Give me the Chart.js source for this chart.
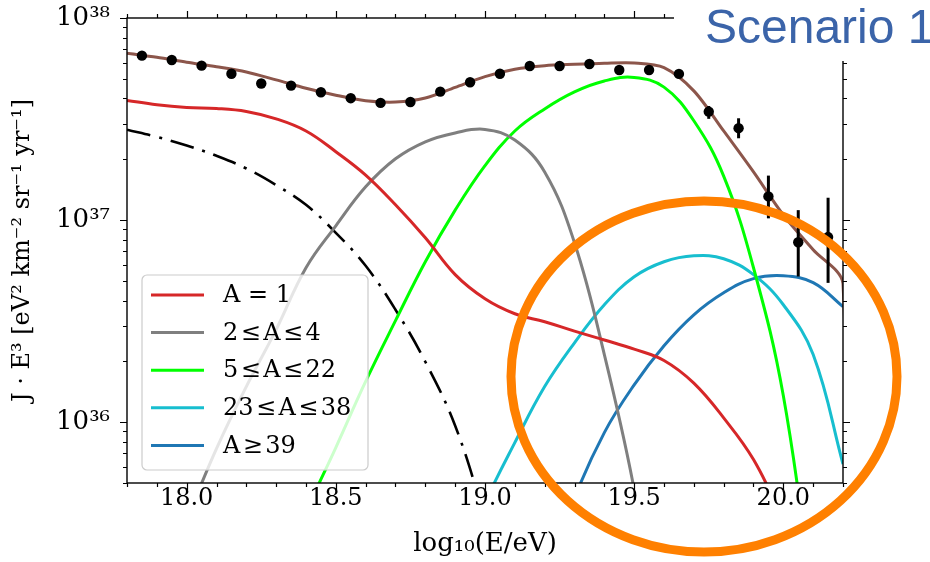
<!DOCTYPE html>
<html>
<head>
<meta charset="utf-8">
<script src="https://cdn.jsdelivr.net/npm/chart.js@4.4.0/dist/chart.umd.min.js"></script>
<style>
  html, body { margin: 0; padding: 0; background: #fff; }
  #wrap { width: 930px; height: 562px; }
</style>
</head>
<body>
<div id="wrap"><canvas id="c" width="930" height="562"></canvas></div>
<script>
// log10(E/eV) grid for the model curves
const curveE = [17.8, 17.9, 18.0, 18.1, 18.2, 18.3, 18.4, 18.5, 18.6, 18.7, 18.8, 18.9,
                19.0, 19.1, 19.2, 19.3, 19.4, 19.5, 19.6, 19.7, 19.8, 19.9, 20.0, 20.1, 20.2];

// J*E^3 of each mass group
const protons = [3.91e37, 3.72e37, 3.61e37, 3.57e37, 3.45e37, 3.17e37, 2.76e37, 2.18e37, 1.67e37, 1.19e37, 8.17e36, 5.37e36,
                 4.08e36, 3.44e36, 3.14e36, 2.82e36, 2.55e36, 2.30e36, 2.02e36, 1.56e36, 1.05e36, 6.53e35, 3.3e35, null, null];
const helium  = [null, null, 3.3e35, 7.4e35, 1.50e36, 2.87e36, 5.81e36, 9.37e36, 1.46e37, 2.01e37, 2.44e37, 2.70e37,
                 2.81e37, 2.49e37, 1.73e37, 7.72e36, 2.16e36, 4.65e35, 6e34, null, null, null, null, null, null];
const cno     = [null, null, null, null, null, 1.6e35, 3.6e35, 7.49e35, 1.59e36, 3.18e36, 6.22e36, 1.12e37,
                 1.86e37, 2.76e37, 3.55e37, 4.31e37, 4.88e37, 5.08e37, 4.55e37, 3.10e37, 1.65e37, 5.81e36, 1.35e36, 1.3e35, null];
const sisGroup = [null, null, null, null, null, null, null, null, null, null, null, 1.8e35,
                 4.0e35, 7.92e35, 1.50e36, 2.47e36, 3.81e36, 5.24e36, 6.22e36, 6.66e36, 6.44e36, 5.37e36, 3.81e36, 2.16e36, 6.2e35];
const ironGroup = [null, null, null, null, null, null, null, null, null, null, null, null,
                 null, null, 1.5e35, 4.2e35, 8.88e35, 1.53e36, 2.39e36, 3.40e36, 4.37e36, 5.13e36, 5.30e36, 4.90e36, 3.73e36];
const otherComp = [2.80e37, 2.58e37, 2.34e37, 2.08e37, 1.80e37, 1.49e37, 1.19e37, 8.65e36, 5.94e36, 3.60e36, 1.99e36, 9.6e35,
                 3.4e35, null, null, null, null, null, null, null, null, null, null, null, null];

// total model, with the drop at the end of the range
const totalE = curveE.concat([20.2]);
const total   = [6.69e37, 6.39e37, 6.04e37, 5.74e37, 5.41e37, 4.94e37, 4.49e37, 4.15e37, 3.90e37, 3.84e37, 4.02e37, 4.54e37,
                 5.13e37, 5.58e37, 5.81e37, 5.90e37, 5.97e37, 5.99e37, 5.68e37, 4.36e37, 2.76e37, 1.73e37, 1.06e37, 7.13e36, 4.84e36, 1e34];

// measured points
const dataE    = [17.85, 17.95, 18.05, 18.15, 18.25, 18.35, 18.45, 18.55, 18.65, 18.75, 18.85, 18.95,
                  19.05, 19.15, 19.25, 19.35, 19.45, 19.55, 19.65, 19.75, 19.85, 19.95, 20.05, 20.15];
const dataJ    = [6.51e37, 6.20e37, 5.81e37, 5.30e37, 4.74e37, 4.63e37, 4.29e37, 4.01e37, 3.80e37, 3.84e37, 4.32e37, 4.81e37,
                  5.30e37, 5.79e37, 5.79e37, 5.92e37, 5.53e37, 5.53e37, 5.29e37, 3.44e37, 2.85e37, 1.31e37, 7.77e36, 8.24e36];
const dataLow  = [6.45e37, 6.14e37, 5.75e37, 5.24e37, 4.68e37, 4.57e37, 4.23e37, 3.95e37, 3.74e37, 3.77e37, 4.24e37, 4.72e37,
                  5.20e37, 5.67e37, 5.65e37, 5.76e37, 5.36e37, 5.33e37, 5.05e37, 3.17e37, 2.54e37, 1.02e37, 5.26e36, 4.89e36];
const dataHigh = [6.57e37, 6.26e37, 5.87e37, 5.36e37, 4.80e37, 4.69e37, 4.35e37, 4.07e37, 3.86e37, 3.91e37, 4.40e37, 4.90e37,
                  5.40e37, 5.91e37, 5.93e37, 6.08e37, 5.70e37, 5.73e37, 5.53e37, 3.67e37, 3.19e37, 1.66e37, 1.12e37, 1.29e37];

const xTickValues = [18.0, 18.5, 19.0, 19.5, 20.0];
const xTickLabels = ['18.0', '18.5', '19.0', '19.5', '20.0'];
const yTickValues = [1e36, 1e37, 1e38];
const yTickLabels = ['10³⁶', '10³⁷', '10³⁸'];

const legendNames = ['A = 1', '2\u200a≤\u200aA\u200a≤\u200a4', '5\u200a≤\u200aA\u200a≤\u200a22',
                     '23\u200a≤\u200aA\u200a≤\u200a38', 'A\u200a≥\u200a39'];

Chart.defaults.font.family = 'DejaVu Serif';
Chart.defaults.color = '#000';

function curve(label, color, values, xs, extra) {
  return Object.assign({
    type: 'line',
    label: label,
    data: xs.map((x, i) => ({ x: x, y: values[i] })),
    borderColor: color,
    backgroundColor: color,
    borderWidth: 3,
    pointRadius: 0,
    fill: false,
    tension: 0.4
  }, extra || {});
}

const frame = {
  id: 'frame',
  afterDatasetsDraw(chart) {
    const ctx = chart.ctx, a = chart.chartArea;
    const xs = chart.scales.x, ys = chart.scales.y;
    ctx.save();
    ctx.beginPath();
    ctx.rect(a.left, a.top, a.right - a.left, a.bottom - a.top);
    ctx.clip();
    ctx.strokeStyle = '#000';
    ctx.lineWidth = 3;
    dataE.forEach((e, i) => {
      const px = xs.getPixelForValue(e);
      ctx.beginPath();
      ctx.moveTo(px, ys.getPixelForValue(dataLow[i]));
      ctx.lineTo(px, ys.getPixelForValue(dataHigh[i]));
      ctx.stroke();
    });
    ctx.restore();
  },
  afterDraw(chart) {
    const ctx = chart.ctx, a = chart.chartArea;
    const xs = chart.scales.x, ys = chart.scales.y;
    ctx.save();
    ctx.strokeStyle = '#000';

    // ticks on all four sides, pointing out
    ctx.lineWidth = 1.2;
    for (let k = 178; k <= 202; k++) {
      const v = k / 10;
      const px = Math.round(xs.getPixelForValue(v)) + 0.5;
      const len = xTickValues.some(t => Math.abs(t - v) < 1e-9) ? 7 : 4;
      ctx.beginPath();
      ctx.moveTo(px, a.bottom); ctx.lineTo(px, a.bottom + len);
      ctx.moveTo(px, a.top); ctx.lineTo(px, a.top - len);
      ctx.stroke();
    }
    for (let ex = 35; ex <= 38; ex++) {
      for (let m = 1; m <= 9; m++) {
        const v = m * Math.pow(10, ex);
        if (v < ys.min * 0.999 || v > ys.max * 1.001) continue;
        const py = Math.round(ys.getPixelForValue(v)) + 0.5;
        const len = m === 1 ? 7 : 4;
        ctx.beginPath();
        ctx.moveTo(a.left, py); ctx.lineTo(a.left - len, py);
        ctx.moveTo(a.right, py); ctx.lineTo(a.right + len, py);
        ctx.stroke();
      }
    }
    // spines
    ctx.lineWidth = 1.4;
    ctx.strokeRect(a.left, a.top, a.right - a.left, a.bottom - a.top);

    // legend
    const lx = a.left + 15, ly = a.bottom - 208, lw = 226, lh = 195;
    ctx.fillStyle = 'rgba(255,255,255,0.8)';
    ctx.strokeStyle = '#cccccc';
    ctx.lineWidth = 1.2;
    ctx.beginPath();
    ctx.roundRect(lx, ly, lw, lh, 5);
    ctx.fill();
    ctx.stroke();
    ctx.font = '24px "DejaVu Serif"';
    ctx.textBaseline = 'middle';
    ctx.textAlign = 'left';
    legendNames.forEach((name, i) => {
      const ds = chart.data.datasets[i + 2];
      const yy = ly + 20 + i * 37.6;
      ctx.strokeStyle = ds.borderColor;
      ctx.lineWidth = 3;
      ctx.beginPath();
      ctx.moveTo(lx + 9, yy); ctx.lineTo(lx + 62, yy);
      ctx.stroke();
      ctx.fillStyle = '#000';
      ctx.fillText(name, lx + 81, yy + 1);
    });

    // title box in the top right corner
    ctx.fillStyle = '#fff';
    ctx.fillRect(674, 0, 930 - 674, 61);
    ctx.fillStyle = '#3b64a9';
    ctx.font = '48px "Liberation Sans"';
    ctx.textBaseline = 'alphabetic';
    ctx.fillText('Scenario 1', 705, 43);

    // highlight ring
    ctx.strokeStyle = '#ff8000';
    ctx.lineWidth = 9;
    ctx.beginPath();
    ctx.ellipse(704, 376.5, 193, 175.5, 0, 0, Math.PI * 2);
    ctx.stroke();
    ctx.restore();
  }
};

new Chart(document.getElementById('c'), {
  type: 'line',
  data: {
    datasets: [
      { type: 'scatter', label: 'data', data: dataE.map((x, i) => ({ x: x, y: dataJ[i] })),
        pointRadius: 5.2, backgroundColor: '#000', borderWidth: 0, showLine: false },
      curve('total', '#8c564b', total, totalE, { tension: 0.3 }),
      curve(legendNames[0], '#d62728', protons, curveE),
      curve(legendNames[1], '#7f7f7f', helium, curveE),
      curve(legendNames[2], '#00ff00', cno, curveE),
      curve(legendNames[3], '#17becf', sisGroup, curveE),
      curve(legendNames[4], '#1f77b4', ironGroup, curveE),
      curve('other', '#000', otherComp, curveE, { borderWidth: 2.6, borderDash: [24, 9, 3, 9] })
    ]
  },
  options: {
    responsive: false,
    animation: false,
    events: [],
    layout: { padding: { left: 0, right: 87, top: 18, bottom: 0 } },
    plugins: { legend: { display: false }, tooltip: { enabled: false } },
    scales: {
      x: {
        type: 'linear', min: 17.8, max: 20.2,
        afterBuildTicks: s => { s.ticks = xTickValues.map(v => ({ value: v })); },
        afterFit: s => { s.height = 79; s.paddingLeft = 0; s.paddingRight = 0; },
        grid: { display: false, drawTicks: false }, border: { display: false },
        ticks: { font: { size: 24 }, color: '#000', padding: 1, maxRotation: 0, autoSkip: false,
                 callback: (v, i) => xTickLabels[i] },
        title: { display: true, text: 'log₁₀(E/eV)', font: { size: 26 }, color: '#000',
                 padding: { top: 0, bottom: 2 } }
      },
      y: {
        type: 'logarithmic', min: 5e35, max: 1e38,
        afterBuildTicks: s => { s.ticks = yTickValues.map(v => ({ value: v })); },
        afterFit: s => { s.width = 127; s.paddingTop = 0; s.paddingBottom = 0; },
        grid: { display: false, drawTicks: false }, border: { display: false },
        ticks: { font: { size: 26 }, color: '#000', padding: 17, autoSkip: false,
                 callback: (v, i) => yTickLabels[i] },
        title: { display: true, text: 'J · E³ [eV² km⁻² sr⁻¹ yr⁻¹]', font: { size: 24 }, color: '#000',
                 padding: { top: 8, bottom: 0 } }
      }
    }
  },
  plugins: [frame]
});
</script>
</body>
</html>
